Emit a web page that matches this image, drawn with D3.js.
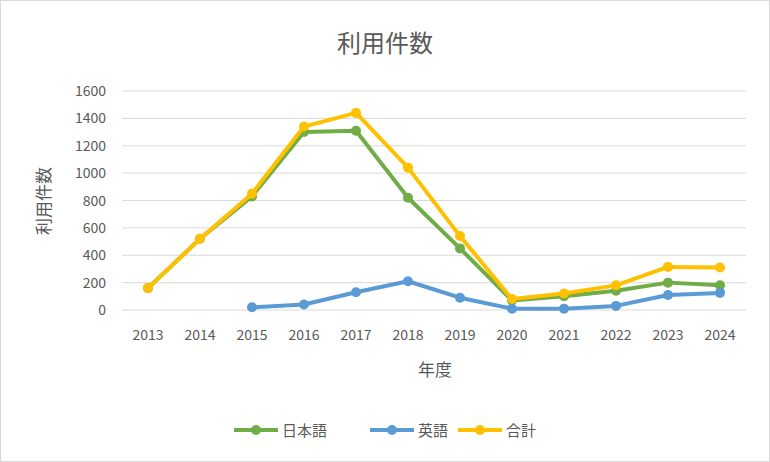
<!DOCTYPE html>
<html><head><meta charset="utf-8">
<script src="https://cdn.jsdelivr.net/npm/d3@7"></script>
<style>body{margin:0;background:#fff}</style></head>
<body><svg id="c" width="770" height="462"></svg>
<script>
const years=["2013","2014","2015","2016","2017","2018","2019","2020","2021","2022","2023","2024"];
const jp=[160,520,830,1300,1310,820,450,70,100,140,200,180];
const en=[null,null,20,40,130,210,90,10,10,30,110,125];
const total=[160,520,850,1340,1440,1040,540,80,120,180,315,310];
const yTicks=[0,200,400,600,800,1000,1200,1400,1600];
const series=[{name:"日本語",v:jp,c:"#70AD47"},{name:"英語",v:en,c:"#5B9BD5"},{name:"合計",v:total,c:"#FFC000"}];
const svg=d3.select("#c");const F="'Noto Sans CJK JP','Noto Sans',sans-serif";
svg.append("rect").attr("x",0.5).attr("y",0.5).attr("width",769).attr("height",461).attr("fill","#fff").attr("stroke","#d9d9d9");
const x=d3.scalePoint().domain(years).range([148,720]);
const y=d3.scaleLinear().domain([0,1600]).range([310,91]);
svg.append("g").selectAll("line").data(yTicks).join("line").attr("x1",122).attr("x2",746).attr("y1",d=>y(d)).attr("y2",d=>y(d)).attr("stroke","#d9d9d9");
svg.append("g").selectAll("text").data(yTicks).join("text").attr("x",106).attr("y",d=>y(d)+5).attr("text-anchor","end").attr("font-size",14).attr("font-family",F).attr("fill","#595959").text(d=>d);
svg.append("g").selectAll("text").data(years).join("text").attr("x",d=>x(d)).attr("y",340).attr("text-anchor","middle").attr("font-size",14).attr("font-family",F).attr("fill","#595959").text(d=>d);
svg.append("text").attr("x",385).attr("y",52).attr("text-anchor","middle").attr("font-size",24).attr("font-family",F).attr("fill","#595959").text("利用件数");
svg.append("text").attr("x",435).attr("y",376).attr("text-anchor","middle").attr("font-size",17).attr("font-family",F).attr("fill","#595959").text("年度");
svg.append("text").attr("transform","translate(50,201) rotate(-90)").attr("text-anchor","middle").attr("font-size",17).attr("font-family",F).attr("fill","#595959").text("利用件数");
const line=d3.line().defined(d=>d.v!=null).x(d=>x(d.y)).y(d=>y(d.v));
series.forEach(s=>{const pts=years.map((yr,i)=>({y:yr,v:s.v[i]}));
svg.append("path").datum(pts).attr("d",line).attr("fill","none").attr("stroke",s.c).attr("stroke-width",4).attr("stroke-linejoin","round");
svg.append("g").selectAll("circle").data(pts.filter(d=>d.v!=null)).join("circle").attr("cx",d=>x(d.y)).attr("cy",d=>y(d.v)).attr("r",5).attr("fill",s.c);});
const lx=[234,370,458];
series.forEach((s,i)=>{const g=svg.append("g").attr("transform",`translate(${lx[i]},430)`);
g.append("line").attr("x1",0).attr("x2",44).attr("stroke",s.c).attr("stroke-width",4);
g.append("circle").attr("cx",22).attr("r",5).attr("fill",s.c);
g.append("text").attr("x",48).attr("y",6).attr("font-size",15).attr("font-family",F).attr("fill","#595959").text(s.name);});
</script></body></html>
